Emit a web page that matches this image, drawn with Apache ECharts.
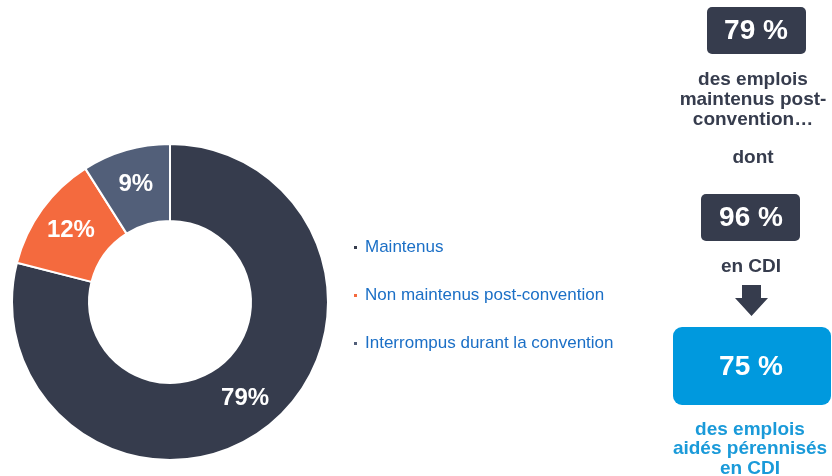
<!DOCTYPE html>
<html><head><meta charset="utf-8">
<script src="https://cdn.jsdelivr.net/npm/echarts@6/dist/echarts.min.js"></script>
<style>html,body{margin:0;padding:0;background:#fff}#c{width:832px;height:476px}</style>
</head><body><div id="c"></div>
<script>
const categories = ['Maintenus', 'Non maintenus post-convention', 'Interrompus durant la convention'];
const values = [79, 12, 9];
const colors = ['#363c4d', '#f46a3e', '#525f79'];
const boxTexts = ['79 %', '96 %', '75 %'];

const FONT = '"Liberation Sans", Arial, sans-serif';
const dark = '#363c4d';
const blue = '#0099de';
const chart = echarts.init(document.getElementById('c'));
const cx = 753;
chart.setOption({
  animation: false,
  color: colors,
  legend: {
    orient: 'vertical', left: 347, top: 234,
    icon: 'rect', itemWidth: 5, itemHeight: 5, itemGap: 31,
    textStyle: { color: '#1b6fc6', fontSize: 17, fontFamily: FONT, padding: [0, 0, 0, 2] },
    data: categories
  },
  series: [{
    type: 'pie', center: [170, 302], radius: [81, 158],
    startAngle: 90, clockwise: true,
    itemStyle: { borderColor: '#fff', borderWidth: 2 },
    label: { position: 'inside', formatter: '{c}%', color: '#fff', fontSize: 24, fontWeight: 'bold', fontFamily: FONT },
    labelLine: { show: false },
    data: categories.map((n, i) => ({ name: n, value: values[i] }))
  }],
  graphic: [
    { type: 'rect', shape: { x: 707, y: 7, width: 99, height: 47, r: 5 }, style: { fill: dark } },
    { type: 'text', x: 756, y: 31, style: { text: boxTexts[0], fill: '#fff', font: 'bold 28px ' + FONT, align: 'center', verticalAlign: 'middle' } },
    { type: 'text', x: cx, y: 100, style: { text: 'des emplois\nmaintenus post-\nconvention…', fill: dark, font: 'bold 19px ' + FONT, lineHeight: 20, align: 'center', verticalAlign: 'middle' } },
    { type: 'text', x: cx, y: 158, style: { text: 'dont', fill: dark, font: 'bold 19px ' + FONT, align: 'center', verticalAlign: 'middle' } },
    { type: 'rect', shape: { x: 701, y: 194, width: 99, height: 47, r: 5 }, style: { fill: dark } },
    { type: 'text', x: 751, y: 218, style: { text: boxTexts[1], fill: '#fff', font: 'bold 28px ' + FONT, align: 'center', verticalAlign: 'middle' } },
    { type: 'text', x: 751, y: 267, style: { text: 'en CDI', fill: dark, font: 'bold 19px ' + FONT, align: 'center', verticalAlign: 'middle' } },
    { type: 'polygon', shape: { points: [[742,285],[761,285],[761,298],[768,298],[751.5,316],[735,298],[742,298]] }, style: { fill: dark } },
    { type: 'rect', shape: { x: 673, y: 327, width: 158, height: 78, r: 9 }, style: { fill: blue } },
    { type: 'text', x: 751, y: 367, style: { text: boxTexts[2], fill: '#fff', font: 'bold 28px ' + FONT, align: 'center', verticalAlign: 'middle' } },
    { type: 'text', x: 750, y: 449, style: { text: 'des emplois\naidés pérennisés\nen CDI', fill: '#1a9ad9', font: 'bold 19px ' + FONT, lineHeight: 19.5, align: 'center', verticalAlign: 'middle' } }
  ]
});
</script></body></html>
